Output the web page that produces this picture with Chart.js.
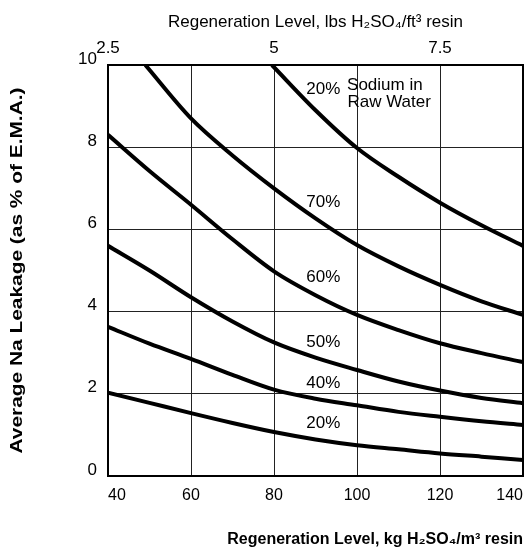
<!DOCTYPE html>
<html lang="en">
<head>
<meta charset="utf-8">
<title>Average Na Leakage</title>
<script src="https://cdn.jsdelivr.net/npm/chart.js@4.4.1/dist/chart.umd.min.js"></script>
<style>
  html, body { margin: 0; padding: 0; background: #fff; }
  #wrap { width: 530px; height: 548px; position: relative; }
</style>
</head>
<body>
<div id="wrap"><canvas id="chart-vazamento"></canvas></div>
<script>
// Dados: x em kg H2SO4/m3, y em % de E.M.A.
const nivelKg = [40, 50, 60, 70, 80, 90, 100, 110, 120, 130, 140];
const nivelKgTopo = [79.5, 90, 100, 110, 120, 130, 140];
const nivelKg70 = [49, 60, 70, 80, 90, 100, 110, 120, 130, 140];

const vazamentoTopo = [10, 8.9, 7.98, 7.28, 6.65, 6.1, 5.6];
const vazamento70 = [10, 8.7, 7.8, 7.0, 6.27, 5.62, 5.1, 4.65, 4.25, 3.92];
const vazamento60 = [8.3, 7.42, 6.6, 5.76, 4.98, 4.4, 3.92, 3.55, 3.23, 2.99, 2.77];
const vazamento50 = [5.6, 5.0, 4.35, 3.76, 3.25, 2.88, 2.58, 2.3, 2.08, 1.9, 1.77];
const vazamento40 = [3.63, 3.22, 2.85, 2.46, 2.1, 1.88, 1.72, 1.56, 1.44, 1.33, 1.24];
const vazamento20 = [2.03, 1.78, 1.53, 1.29, 1.07, 0.89, 0.75, 0.65, 0.55, 0.47, 0.39];

const ticksX = [40, 60, 80, 100, 120, 140];
const ticksY = [0, 2, 4, 6, 8, 10];
const ticksLbs = [2.5, 5, 7.5];

// Rótulos das curvas (texto e posição em unidades dos eixos)
const rotulosCurvas = [
  { texto: "20%", x: 87.8, y: 9.42 },
  { texto: "Sodium in", x: 97.6, y: 9.5 },
  { texto: "Raw Water", x: 97.7, y: 9.08 },
  { texto: "70%", x: 87.8, y: 6.67 },
  { texto: "60%", x: 87.8, y: 4.84 },
  { texto: "50%", x: 87.8, y: 3.26 },
  { texto: "40%", x: 87.8, y: 2.26 },
  { texto: "20%", x: 87.8, y: 1.29 },
];

const FONTE = "'Liberation Sans', Arial, Helvetica, sans-serif";

const GraficoController = {
  chart: null,

  init() {
    const ctx = document.querySelector("#chart-vazamento");
    if (!ctx) return;

    Chart.defaults.font.family = FONTE;
    Chart.defaults.color = "#000";

    this.chart = new Chart(ctx, {
      type: "line",
      data: {
        datasets: [
          this.montarSerie(nivelKgTopo, vazamentoTopo),
          this.montarSerie(nivelKg70, vazamento70),
          this.montarSerie(nivelKg, vazamento60),
          this.montarSerie(nivelKg, vazamento50),
          this.montarSerie(nivelKg, vazamento40),
          this.montarSerie(nivelKg, vazamento20),
        ],
      },
      options: {
        responsive: true,
        maintainAspectRatio: false,
        animation: false,
        layout: { padding: { left: 0, right: 7, top: 0, bottom: 0 } },
        plugins: {
          legend: { display: false },
          tooltip: { enabled: false },
        },
        scales: {
          x: {
            type: "linear",
            position: "bottom",
            min: 40,
            max: 140,
            afterBuildTicks: (s) => {
              s.ticks = ticksX.map((v) => ({ value: v }));
            },
            afterFit: (s) => {
              s.height = 72;
              s.paddingLeft = 0;
              s.paddingRight = 0;
            },
            ticks: { font: { size: 16 }, padding: 10, color: "#000", maxRotation: 0, align: "inner" },
            grid: { color: "#222", lineWidth: 1, drawTicks: false },
            border: { display: false },
            title: {
              display: true,
              text: "Regeneration Level, kg H₂SO₄/m³ resin",
              align: "end",
              font: { size: 16, weight: "bold", lineHeight: 1 },
              padding: { top: 0, bottom: 0 },
              color: "#000",
            },
          },
          xLbs: {
            type: "linear",
            position: "top",
            min: 40 / 16,
            max: 140 / 16,
            afterBuildTicks: (s) => {
              s.ticks = ticksLbs.map((v) => ({ value: v }));
            },
            afterFit: (s) => {
              s.height = 65;
              s.paddingLeft = 0;
              s.paddingRight = 0;
            },
            ticks: { font: { size: 17 }, padding: 6, color: "#000", maxRotation: 0 },
            grid: { display: false, drawTicks: false },
            border: { display: false },
            title: {
              display: true,
              text: "Regeneration Level, lbs H₂SO₄/ft³ resin",
              font: { size: 17 },
              padding: { top: 12, bottom: 0 },
              color: "#000",
            },
          },
          y: {
            type: "linear",
            min: 0,
            max: 10,
            afterBuildTicks: (s) => {
              s.ticks = ticksY.map((v) => ({ value: v }));
            },
            afterFit: (s) => {
              s.width = 108;
              s.paddingTop = 0;
              s.paddingBottom = 0;
            },
            ticks: { font: { size: 17 }, padding: 11, labelOffset: -6, color: "#000" },
            grid: { color: "#222", lineWidth: 1, drawTicks: false },
            border: { display: false },
          },
        },
      },
      plugins: [this.pluginMoldura(), this.pluginRotulos(), this.pluginTituloY()],
    });
  },

  /**
   * Monta um dataset de curva a partir dos arrays x e y
   */
  montarSerie(xs, ys) {
    return {
      data: xs.map((x, i) => ({ x, y: ys[i] })),
      borderColor: "#000",
      borderWidth: 4,
      pointRadius: 0,
      fill: false,
      cubicInterpolationMode: "monotone",
    };
  },

  /**
   * Moldura em volta da área do gráfico
   */
  pluginMoldura() {
    return {
      id: "moldura",
      afterDatasetsDraw(chart) {
        const { ctx, chartArea: a } = chart;
        ctx.save();
        ctx.strokeStyle = "#000";
        ctx.lineWidth = 2;
        ctx.strokeRect(a.left, a.top, a.right - a.left, a.bottom - a.top);
        ctx.restore();
      },
    };
  },

  /**
   * Rótulos de texto das curvas
   */
  pluginRotulos() {
    return {
      id: "rotulos",
      afterDraw(chart) {
        const { ctx, scales } = chart;
        ctx.save();
        ctx.font = `17px ${FONTE}`;
        ctx.fillStyle = "#000";
        ctx.textAlign = "left";
        ctx.textBaseline = "middle";
        rotulosCurvas.forEach((r) => {
          ctx.fillText(r.texto, scales.x.getPixelForValue(r.x), scales.y.getPixelForValue(r.y));
        });
        ctx.restore();
      },
    };
  },

  /**
   * Título do eixo Y (girado), esticado como no original
   */
  pluginTituloY() {
    return {
      id: "tituloY",
      afterDraw(chart) {
        const { ctx, chartArea: a } = chart;
        const texto = "Average Na Leakage (as % of E.M.A.)";
        ctx.save();
        ctx.font = `bold 16px ${FONTE}`;
        const largura = ctx.measureText(texto).width;
        ctx.translate(18, (a.top + a.bottom) / 2);
        ctx.rotate(-Math.PI / 2);
        ctx.scale(366 / largura, 1);
        ctx.fillStyle = "#000";
        ctx.textAlign = "center";
        ctx.textBaseline = "middle";
        ctx.fillText(texto, 0, 0);
        ctx.restore();
      },
    };
  },
};

if (document.readyState === "loading") {
  document.addEventListener("DOMContentLoaded", () => GraficoController.init());
} else {
  GraficoController.init();
}
</script>
</body>
</html>
